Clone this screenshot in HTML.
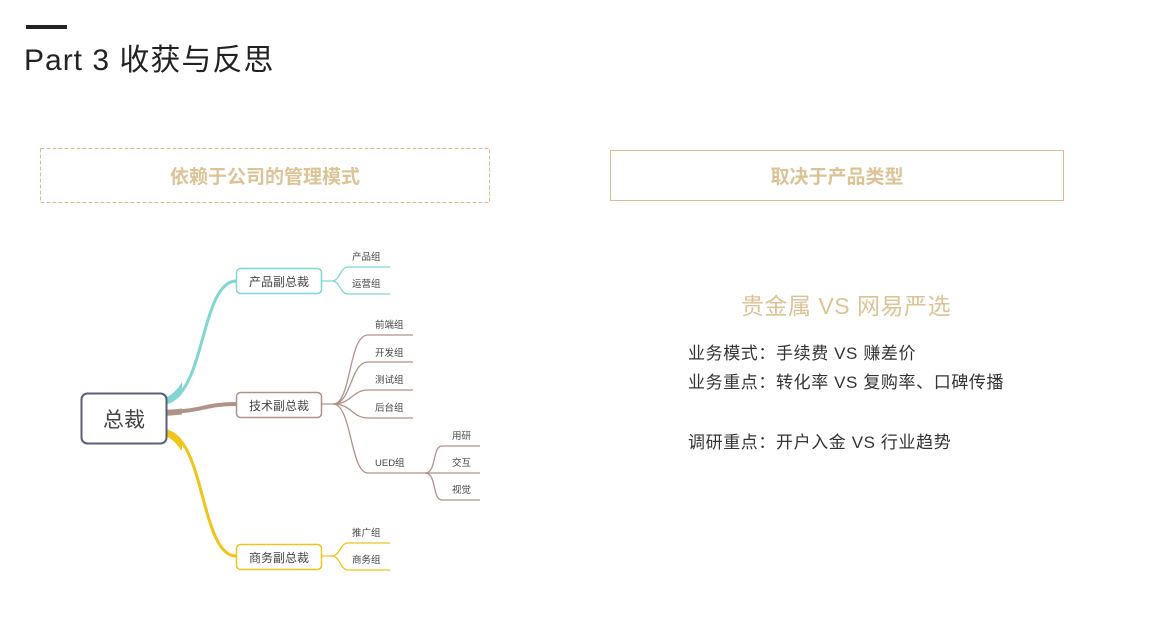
<!DOCTYPE html>
<html><head><meta charset="utf-8"><style>
html,body{margin:0;padding:0;background:#fff;}
svg{display:block;font-family:"Liberation Sans","Noto Sans CJK SC",sans-serif;}
</style></head><body>
<svg width="1155" height="617" viewBox="0 0 1155 617" xmlns="http://www.w3.org/2000/svg">
<defs><clipPath id="c"><rect x="150" y="380" width="32" height="70"/></clipPath></defs>
<rect x="26" y="25" width="41" height="4" fill="#222"/>
<text x="24" y="70" font-size="30" fill="#222" letter-spacing="1">Part 3 收获与反思</text>

<rect x="40.5" y="148.5" width="449" height="54" fill="none" stroke="#d9bf8f" stroke-dasharray="4,2"/>
<text x="265" y="183" font-size="19" font-weight="bold" fill="#dcc396" text-anchor="middle">依赖于公司的管理模式</text>
<rect x="610.5" y="150.5" width="453" height="50" fill="none" stroke="#d9bf8f"/>
<text x="837" y="183" font-size="19" font-weight="bold" fill="#dcc396" text-anchor="middle">取决于产品类型</text>

<text x="846" y="314" font-size="23" fill="#dcc396" text-anchor="middle" letter-spacing="0.5">贵金属 VS 网易严选</text>
<g font-size="17" fill="#333" letter-spacing="0.6">
<text x="688" y="359">业务模式：手续费 VS 赚差价</text>
<text x="688" y="388">业务重点：转化率 VS 复购率、口碑传播</text>
<text x="688" y="448">调研重点：开户入金 VS 行业趋势</text>
</g>

<!-- connectors from root -->
<path d="M164 402 C205 400 200 282 236 281" fill="none" stroke="#7fd6d2" stroke-width="3"/>
<path d="M160 402 C205 400 200 282 236 281" fill="none" stroke="#7fd6d2" stroke-width="7" clip-path="url(#c)"/>
<path d="M164 412 C200 412 205 404 236 404" fill="none" stroke="#b09288" stroke-width="4"/>
<path d="M160 413 C200 412 205 404 236 404" fill="none" stroke="#b09288" stroke-width="6" clip-path="url(#c)"/>
<path d="M164 432 C205 432 200 556 236 556" fill="none" stroke="#f0c419" stroke-width="3"/>
<path d="M160 432 C205 432 200 556 236 556" fill="none" stroke="#f0c419" stroke-width="7" clip-path="url(#c)"/>

<!-- root -->
<rect x="81.5" y="393.5" width="85" height="50" rx="6" fill="#fff" stroke="#5a5e78" stroke-width="2"/>
<text x="124" y="427" font-size="21" fill="#444" text-anchor="middle">总裁</text>

<!-- VP boxes -->
<rect x="236.5" y="268.5" width="85" height="25" rx="4" fill="#fff" stroke="#7fd6d2" stroke-width="1.5"/>
<text x="279" y="286" font-size="12" fill="#444" text-anchor="middle">产品副总裁</text>
<rect x="236.5" y="392.5" width="85" height="25" rx="4" fill="#fff" stroke="#b09288" stroke-width="1.5"/>
<text x="279" y="410" font-size="12" fill="#444" text-anchor="middle">技术副总裁</text>
<rect x="236.5" y="544.5" width="85" height="25" rx="4" fill="#fff" stroke="#f0c419" stroke-width="1.5"/>
<text x="279" y="562" font-size="12" fill="#444" text-anchor="middle">商务副总裁</text>

<g fill="none" stroke-width="1.3">
<g stroke="#7fd6d2">
<path d="M321 281 H332 C340 281 340 267 348 267 H390"/>
<path d="M332 281 C340 281 340 294 348 294 H390"/>
</g>
<g stroke="#b09288">
<path d="M321 404 H333 C352 404 348 335 368 335 H413"/>
<path d="M333 404 C352 404 350 362 368 362 H413"/>
<path d="M333 404 C352 404 352 390 368 390 H413"/>
<path d="M333 404 C352 404 352 418 368 418 H413"/>
<path d="M333 404 C352 404 350 473 368 473 H425"/>
<path d="M425 473 C437 473 432 446 442 446 H480"/>
<path d="M425 473 H480"/>
<path d="M425 473 C437 473 432 500 442 500 H480"/>
</g>
<g stroke="#f0c419">
<path d="M321 556 H332 C340 556 340 543 348 543 H390"/>
<path d="M332 556 C340 556 340 570 348 570 H390"/>
</g>
</g>

<g font-size="9.5" fill="#444">
<text x="352" y="260">产品组</text>
<text x="352" y="287">运营组</text>
<text x="375" y="328">前端组</text>
<text x="375" y="356">开发组</text>
<text x="375" y="383">测试组</text>
<text x="375" y="411">后台组</text>
<text x="375" y="466">UED组</text>
<text x="452" y="439">用研</text>
<text x="452" y="466">交互</text>
<text x="452" y="493">视觉</text>
<text x="352" y="536">推广组</text>
<text x="352" y="563">商务组</text>
</g>
</svg>
</body></html>
